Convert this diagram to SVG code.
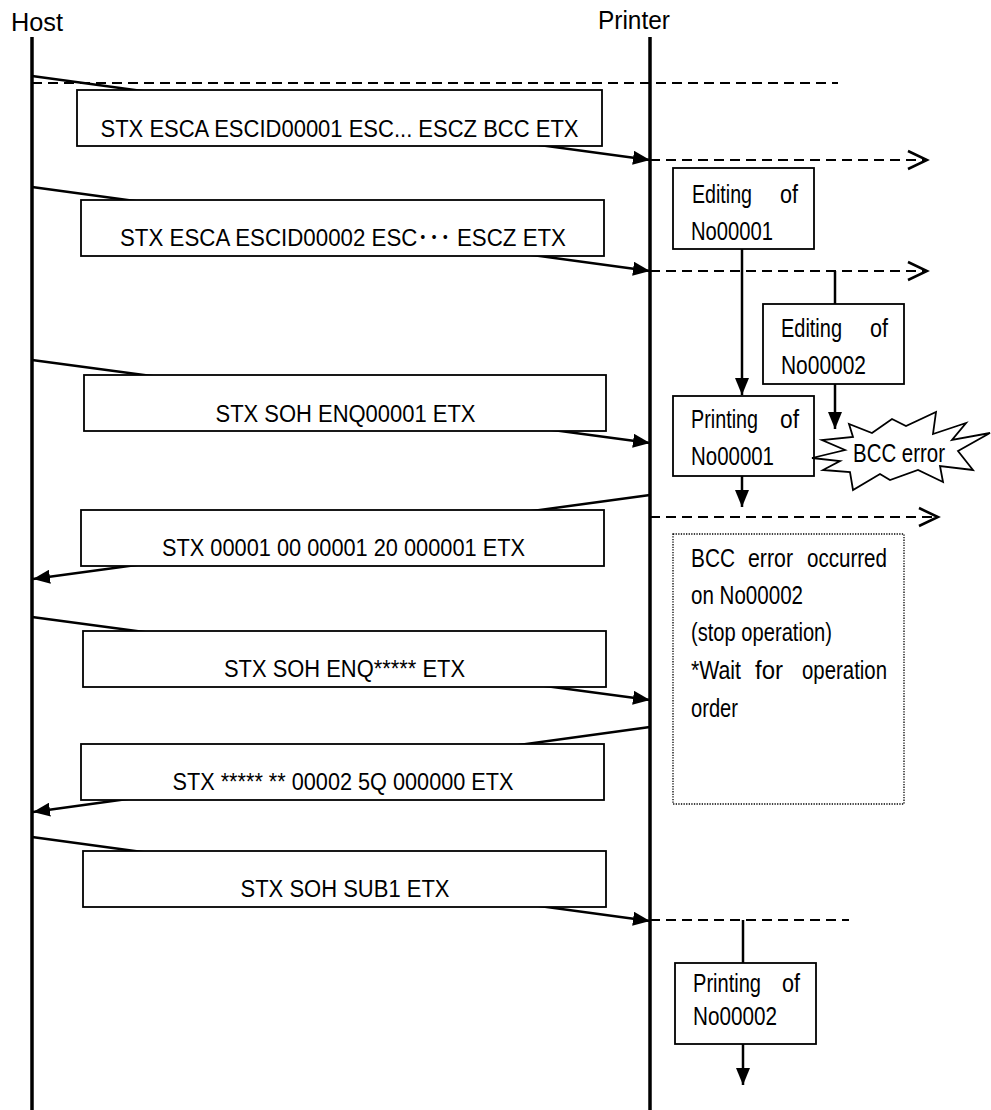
<svg xmlns="http://www.w3.org/2000/svg" width="991" height="1110" viewBox="0 0 991 1110">
<defs>
<style>
.life{stroke:#000;stroke-width:3.5;fill:none}
.msgl{stroke:#000;stroke-width:2.5;fill:none;marker-end:url(#ah)}
.dash{stroke:#000;stroke-width:2;fill:none;stroke-dasharray:10 6}
.open{stroke:#000;stroke-width:2.5;fill:none}
.vl{stroke:#000;stroke-width:2.5;fill:none}
.va{stroke:#000;stroke-width:2.5;fill:none;marker-end:url(#ah)}
.box{fill:#fff;stroke:#000;stroke-width:1.8}
.dot{fill:none;stroke:#000;stroke-width:1.3;stroke-dasharray:1.3 1.3}
.msg{font-family:"Liberation Sans",Arial,"Noto Sans CJK JP",sans-serif;font-size:23.5px;fill:#000;text-anchor:middle}
.lab{font-family:"Liberation Sans",Arial,sans-serif;font-size:25px;fill:#000}
.nar{font-family:"Liberation Sans Narrow","Liberation Sans",Arial,sans-serif;font-size:25.5px;fill:#000}
</style>
<marker id="ah" markerWidth="17" markerHeight="14" refX="17" refY="7" orient="auto" markerUnits="userSpaceOnUse"><path d="M0,0 L17,7 L0,14 z" fill="#000"/></marker>
</defs>
<rect width="991" height="1110" fill="#fff"/>

<g id="host"><text class="lab" x="11" y="31" textLength="52" lengthAdjust="spacingAndGlyphs">Host</text><line class="life" x1="32" y1="37" x2="32" y2="1110"/></g>
<g id="printer"><text class="lab" x="598" y="29" textLength="72" lengthAdjust="spacingAndGlyphs">Printer</text><line class="life" x1="650" y1="37" x2="650" y2="1110"/></g>

<g id="connectors">
<line class="dash" x1="32" y1="83" x2="838" y2="83"/>
<line class="msgl" x1="32" y1="76" x2="650" y2="160"/>
<line class="msgl" x1="32" y1="187" x2="650" y2="271"/>
<line class="msgl" x1="32" y1="360" x2="650" y2="443"/>
<line class="msgl" x1="650" y1="495" x2="33" y2="579"/>
<line class="msgl" x1="32" y1="617" x2="650" y2="700"/>
<line class="msgl" x1="650" y1="727" x2="33" y2="812"/>
<line class="msgl" x1="32" y1="837" x2="650" y2="921"/>
<line class="dash" x1="650" y1="160" x2="925" y2="160"/>
<path class="open" d="M908,151 L927,160 L908,169"/>
<line class="dash" x1="650" y1="271" x2="925" y2="271"/>
<path class="open" d="M908,262 L927,271 L908,280"/>
<line class="dash" x1="650" y1="517" x2="936" y2="517"/>
<path class="open" d="M919,508 L938,517 L919,526"/>
<line class="dash" x1="650" y1="920" x2="849" y2="920"/>
<line class="va" x1="742" y1="249" x2="742" y2="395"/>
<line class="vl" x1="835" y1="271" x2="835" y2="304"/>
<line class="va" x1="835" y1="384" x2="835" y2="429"/>
<line class="va" x1="742" y1="476" x2="742" y2="507"/>
<line class="vl" x1="743" y1="920" x2="743" y2="963"/>
<line class="va" x1="743" y1="1044" x2="743" y2="1085"/>
</g>

<g id="m1"><rect class="box" x="77" y="90" width="525" height="56"/><text class="msg" x="339.5" y="136.5" textLength="478" lengthAdjust="spacingAndGlyphs">STX ESCA ESCID00001 ESC... ESCZ BCC ETX</text></g>
<g id="m2"><rect class="box" x="81" y="200" width="523" height="56"/><text class="msg" x="343" y="245.5" textLength="446" lengthAdjust="spacingAndGlyphs">STX ESCA ESCID00002 ESC･･･ ESCZ ETX</text></g>
<g id="m3"><rect class="box" x="84" y="375" width="522" height="56"/><text class="msg" x="345.5" y="421.5" textLength="260" lengthAdjust="spacingAndGlyphs">STX SOH ENQ00001 ETX</text></g>
<g id="m4"><rect class="box" x="81" y="510" width="523" height="56"/><text class="msg" x="343.5" y="556" textLength="363" lengthAdjust="spacingAndGlyphs">STX 00001 00 00001 20 000001 ETX</text></g>
<g id="m5"><rect class="box" x="83" y="631" width="523" height="56"/><text class="msg" x="344.5" y="677" textLength="241" lengthAdjust="spacingAndGlyphs">STX SOH ENQ***** ETX</text></g>
<g id="m6"><rect class="box" x="81" y="744" width="523" height="56"/><text class="msg" x="343" y="790" textLength="341" lengthAdjust="spacingAndGlyphs">STX ***** ** 00002 5Q 000000 ETX</text></g>
<g id="m7"><rect class="box" x="83" y="851" width="523" height="56"/><text class="msg" x="345" y="897" textLength="209" lengthAdjust="spacingAndGlyphs">STX SOH SUB1 ETX</text></g>

<g id="edit1"><rect class="box" x="673" y="168" width="141" height="81"/>
<text class="nar" x="692" y="202.5" textLength="60" lengthAdjust="spacingAndGlyphs">Editing</text>
<text class="nar" x="780" y="202.5" textLength="18" lengthAdjust="spacingAndGlyphs">of</text>
<text class="nar" x="691" y="239.5" textLength="82" lengthAdjust="spacingAndGlyphs">No00001</text></g>

<g id="edit2"><rect class="box" x="763" y="304" width="141" height="80"/>
<text class="nar" x="781" y="337" textLength="61" lengthAdjust="spacingAndGlyphs">Editing</text>
<text class="nar" x="870" y="337" textLength="18" lengthAdjust="spacingAndGlyphs">of</text>
<text class="nar" x="781" y="374" textLength="85" lengthAdjust="spacingAndGlyphs">No00002</text></g>

<g id="print1"><rect class="box" x="673" y="396" width="141" height="80"/>
<text class="nar" x="691" y="427.5" textLength="67" lengthAdjust="spacingAndGlyphs">Printing</text>
<text class="nar" x="780" y="427.5" textLength="19" lengthAdjust="spacingAndGlyphs">of</text>
<text class="nar" x="691" y="465" textLength="83" lengthAdjust="spacingAndGlyphs">No00001</text></g>

<g id="bccerr"><polygon class="box" points="812,458 845,450 822,440 853,437 849,424 872,433 892,419 906,426 936,412 933,434 966,423 952,440 990,433 958,451 973,470 940,466 943,482 918,470 890,480 880,474 853,490 850,472 823,470 840,461"/>
<text class="nar" x="853" y="461.5" textLength="92" lengthAdjust="spacingAndGlyphs">BCC error</text></g>

<g id="note"><rect class="dot" x="673" y="534" width="231" height="270"/>
<text class="nar" x="691" y="567" textLength="44" lengthAdjust="spacingAndGlyphs">BCC</text>
<text class="nar" x="748" y="567" textLength="45" lengthAdjust="spacingAndGlyphs">error</text>
<text class="nar" x="807" y="567" textLength="80" lengthAdjust="spacingAndGlyphs">occurred</text>
<text class="nar" x="691" y="604" textLength="112" lengthAdjust="spacingAndGlyphs">on No00002</text>
<text class="nar" x="691" y="641" textLength="141" lengthAdjust="spacingAndGlyphs">(stop operation)</text>
<text class="nar" x="691" y="679" textLength="50" lengthAdjust="spacingAndGlyphs">*Wait</text>
<text class="nar" x="755" y="679" textLength="28" lengthAdjust="spacingAndGlyphs">for</text>
<text class="nar" x="802" y="679" textLength="85" lengthAdjust="spacingAndGlyphs">operation</text>
<text class="nar" x="691" y="716.5" textLength="47" lengthAdjust="spacingAndGlyphs">order</text></g>

<g id="print2"><rect class="box" x="675" y="963" width="141" height="81"/>
<text class="nar" x="693" y="992" textLength="68" lengthAdjust="spacingAndGlyphs">Printing</text>
<text class="nar" x="782" y="992" textLength="18" lengthAdjust="spacingAndGlyphs">of</text>
<text class="nar" x="693" y="1025" textLength="84" lengthAdjust="spacingAndGlyphs">No00002</text></g>
</svg>
